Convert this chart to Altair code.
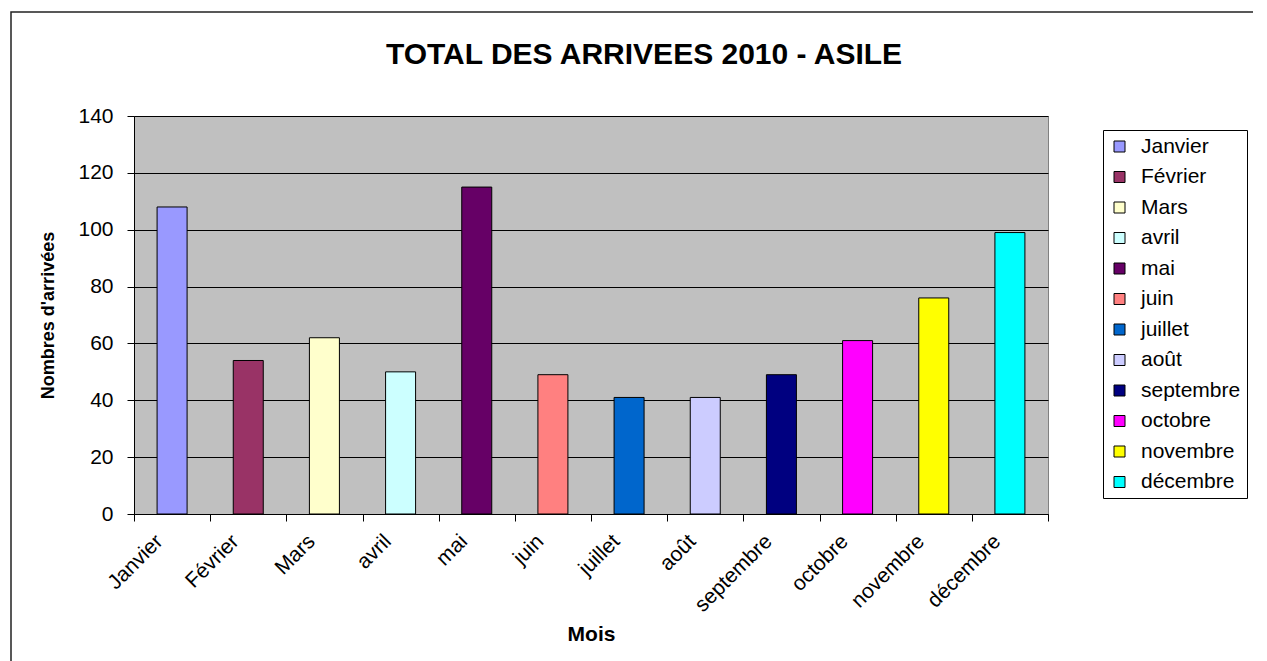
import altair as alt
import pandas as pd

mois = ["Janvier", "Février", "Mars", "avril", "mai", "juin", "juillet",
        "août", "septembre", "octobre", "novembre", "décembre"]
arrivees = [108, 54, 62, 50, 115, 49, 41, 41, 49, 61, 76, 99]
couleurs = ["#9999FF", "#993366", "#FFFFCC", "#CCFFFF", "#660066", "#FF8080",
            "#0066CC", "#CCCCFF", "#000080", "#FF00FF", "#FFFF00", "#00FFFF"]
y_ticks = [0, 20, 40, 60, 80, 100, 120, 140]
titre = "TOTAL DES ARRIVEES 2010 - ASILE"

df = pd.DataFrame({"Mois": mois, "Arrivees": arrivees})
FONT = "Liberation Sans"
one = pd.DataFrame({"k": [0]})

frame = alt.Chart(one).mark_rect(
    fill=None, stroke="#222222", strokeWidth=1.5, clip=False
).encode(
    x=alt.value(-123), x2=alt.value(1200),
    y=alt.value(-104), y2=alt.value(600)
)

title_mark = alt.Chart(one).mark_text(
    font=FONT, fontSize=30, fontWeight="bold", color="black",
    align="center", baseline="middle", clip=False
).encode(x=alt.value(510), y=alt.value(-61), text=alt.value(titre))

bars = alt.Chart(df).mark_bar(size=30, stroke="black", strokeWidth=1).encode(
    x=alt.X("Mois:N", sort=mois, scale=alt.Scale(paddingInner=0, paddingOuter=0),
            axis=alt.Axis(title="Mois", labelAngle=-45, labelAlign="right",
                          labelBaseline="middle", labelFontSize=21, labelPadding=17,
                          labelOffset=-13,
                          tickBand="extent", tickSize=7, tickColor="black",
                          domainColor="black", grid=False, titleFontSize=21,
                          titleFontWeight="bold", titlePadding=8,
                          labelColor="black", titleColor="black")),
    y=alt.Y("Arrivees:Q", scale=alt.Scale(domain=[0, 140], nice=False),
            axis=alt.Axis(title="Nombres d'arrivées", values=y_ticks,
                          labelFontSize=21, labelPadding=14, tickSize=7,
                          tickColor="black", domainColor="black",
                          gridColor="black", gridWidth=1, gridOpacity=1,
                          titleFontSize=18, titleFontWeight="bold",
                          titlePadding=20, labelColor="black", titleColor="black")),
    color=alt.Color("Mois:N", sort=mois,
                    scale=alt.Scale(domain=mois, range=couleurs),
                    legend=alt.Legend(title=None, orient="none", legendX=969,
                                      legendY=14, symbolType="square",
                                      symbolSize=121, symbolStrokeColor="black",
                                      symbolStrokeWidth=1, labelFontSize=21,
                                      rowPadding=8.5, labelOffset=11, padding=6,
                                      strokeColor="black", fillColor="white",
                                      labelColor="black", labelLimit=300)),
)

chart = alt.layer(bars, frame, title_mark).properties(
    width=914, height=398,
    autosize=alt.AutoSizeParams(type="none"),
    padding={"left": 126, "top": 108, "right": 205, "bottom": 147},
).configure(font=FONT).configure_view(
    fill="#C0C0C0", stroke="#808080", strokeWidth=1
).configure_axis(labelFont=FONT, titleFont=FONT).configure_legend(
    labelFont=FONT
)

chart.save("out.html", embed_options={"renderer": "svg", "actions": False})
